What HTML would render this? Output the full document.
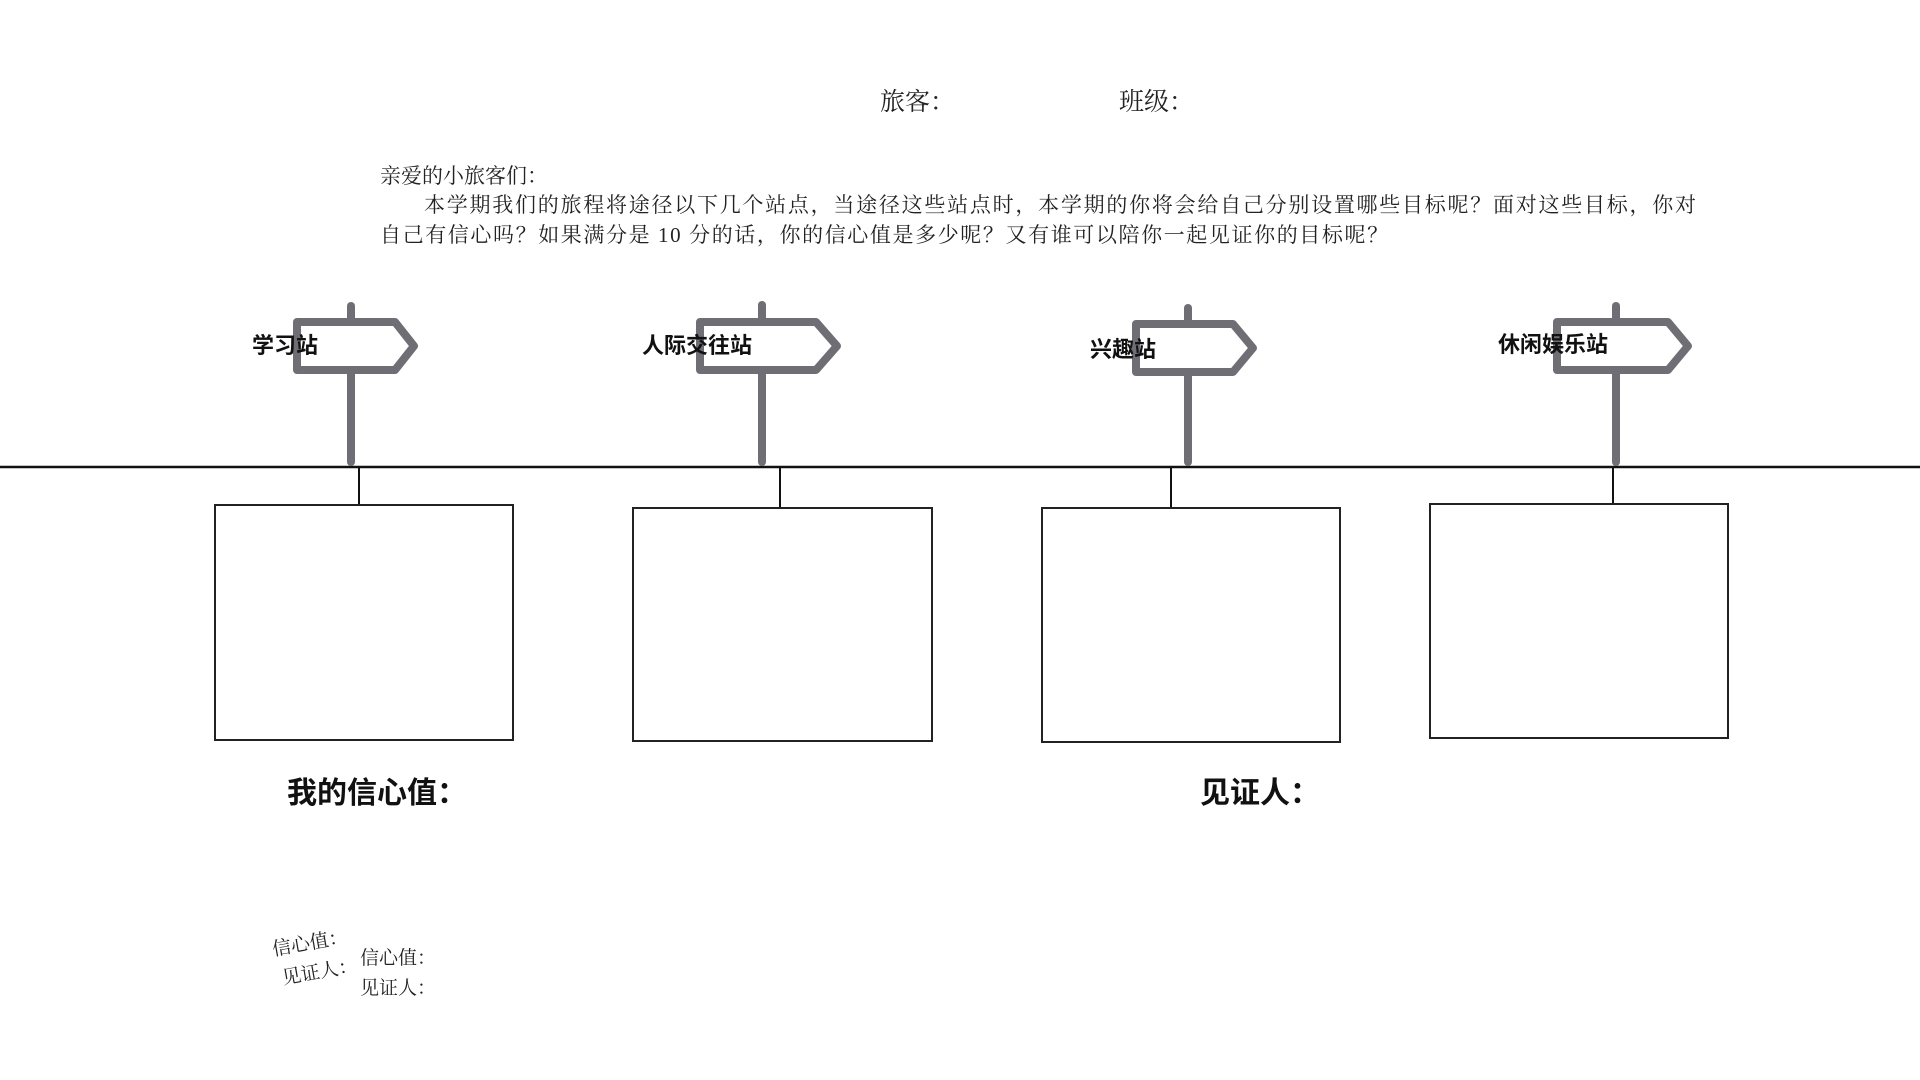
<!DOCTYPE html>
<html><head><meta charset="utf-8"><style>
body{margin:0;width:1920px;height:1080px;background:#fff;position:relative;overflow:hidden;font-family:"Liberation Serif","Noto Serif CJK SC",serif;color:#222}
.t{position:absolute;white-space:nowrap;line-height:1}
.j{position:absolute;white-space:nowrap;text-align:justify;text-align-last:justify;font-size:21px;line-height:1}
.b{font-family:"Liberation Sans","Noto Sans CJK SC",sans-serif;font-weight:bold;color:#111}
.box{position:absolute;border:2px solid #222;box-sizing:border-box}
</style></head><body>
<div class="t" style="left:880px;top:90px;font-size:25px">旅客：</div>
<div class="t" style="left:1119px;top:90px;font-size:25px">班级：</div>
<div class="t" style="left:380px;top:166px;font-size:21px">亲爱的小旅客们：</div>
<div class="j" style="left:424px;top:195px;width:1272px">本学期我们的旅程将途径以下几个站点，当途径这些站点时，本学期的你将会给自己分别设置哪些目标呢？面对这些目标，你对</div>
<div class="t" style="left:380px;top:225px;font-size:21px;letter-spacing:1.6px">自己有信心吗？如果满分是 10 分的话，你的信心值是多少呢？又有谁可以陪你一起见证你的目标呢？</div>

<svg width="1920" height="1080" style="position:absolute;left:0;top:0">
<line x1="0" y1="467" x2="1920" y2="467" stroke="#111" stroke-width="2.5"/>
<g stroke="#111" stroke-width="2">
<line x1="359" y1="467" x2="359" y2="505"/>
<line x1="780" y1="467" x2="780" y2="507"/>
<line x1="1171" y1="467" x2="1171" y2="507"/>
<line x1="1613" y1="467" x2="1613" y2="503"/>
</g>
<g stroke="#6e6e74" stroke-width="8" stroke-linecap="round" stroke-linejoin="round" fill="#fff">
<line x1="351" y1="306" x2="351" y2="462"/>
<polygon points="297,322 395,322 414,346 395,370 297,370"/>
<line x1="762" y1="305" x2="762" y2="462"/>
<polygon points="700,322 816,322 837,346 816,370 700,370"/>
<line x1="1188" y1="308" x2="1188" y2="462"/>
<polygon points="1136,324 1233,324 1253,348 1233,372 1136,372"/>
<line x1="1616" y1="306" x2="1616" y2="462"/>
<polygon points="1557,322 1668,322 1688,346 1668,370 1557,370"/>
</g>
</svg>
<div class="t b" style="left:252px;top:335px;font-size:22px">学习站</div>
<div class="t b" style="left:642px;top:335px;font-size:22px">人际交往站</div>
<div class="t b" style="left:1090px;top:339px;font-size:22px">兴趣站</div>
<div class="t b" style="left:1498px;top:334px;font-size:22px">休闲娱乐站</div>

<div class="box" style="left:214px;top:504px;width:300px;height:237px"></div>
<div class="box" style="left:632px;top:507px;width:301px;height:235px"></div>
<div class="box" style="left:1041px;top:507px;width:300px;height:236px"></div>
<div class="box" style="left:1429px;top:503px;width:300px;height:236px"></div>

<div class="t b" style="left:287px;top:779px;font-size:30px">我的信心值：</div>
<div class="t b" style="left:1200px;top:779px;font-size:30px">见证人：</div>

<div class="t" style="left:270px;top:936px;font-size:19px;line-height:30px;transform:rotate(-10deg);transform-origin:left top">信心值：<br>&nbsp;见证人：</div>
<div class="t" style="left:360px;top:944px;font-size:19px;line-height:30px">信心值：<br>见证人：</div>
</body></html>
